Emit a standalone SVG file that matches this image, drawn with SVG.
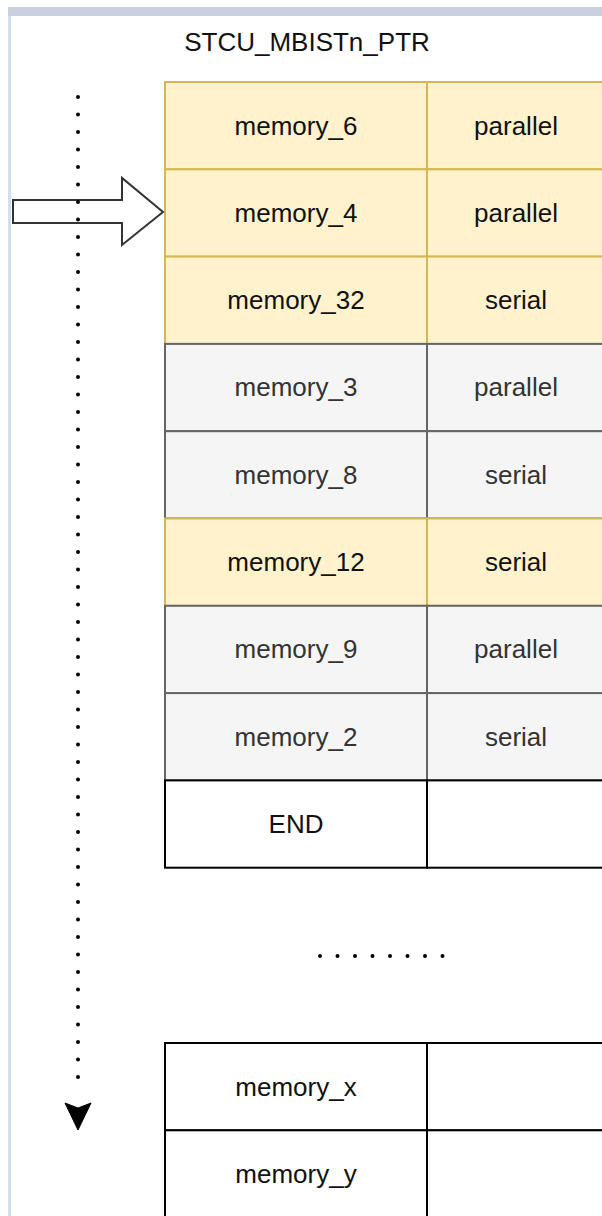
<svg xmlns="http://www.w3.org/2000/svg" width="602" height="1216" viewBox="0 0 602 1216">
  <defs>
    <style>
      .lbl { font-family: "Liberation Sans", Arial, sans-serif; font-size: 26px; text-anchor: middle; fill: #111111; }
      .lbl-g { fill: #333333; }
      .y { fill: #fff2cc; stroke: #d6b656; stroke-width: 2; }
      .g { fill: #f5f5f5; stroke: #666666; stroke-width: 2; }
      .w { fill: #ffffff; stroke: #000000; stroke-width: 2; }
      .dots { fill: none; stroke: #000000; stroke-width: 4; stroke-linecap: round; }
    </style>
  </defs>

  <!-- canvas frame -->
  <rect x="0" y="0" width="602" height="1216" fill="#ffffff"/>
  <rect x="8" y="7" width="594" height="9" fill="#c9d1e1"/>
  <rect x="8" y="16" width="3" height="1200" fill="#d6deec"/>

  <!-- title -->
  <text id="title" class="lbl" x="307" y="51">STCU_MBISTn_PTR</text>

  <!-- pointer table -->
  <g id="row-memory_6">
    <rect class="y" x="165" y="82" width="262" height="87.3"/>
    <rect class="y" x="427" y="82" width="178" height="87.3"/>
    <text class="lbl" x="296" y="135">memory_6</text>
    <text class="lbl" x="516" y="135">parallel</text>
  </g>
  <g id="row-memory_4">
    <rect class="y" x="165" y="169.3" width="262" height="87.3"/>
    <rect class="y" x="427" y="169.3" width="178" height="87.3"/>
    <text class="lbl" x="296" y="222">memory_4</text>
    <text class="lbl" x="516" y="222">parallel</text>
  </g>
  <g id="row-memory_32">
    <rect class="y" x="165" y="256.6" width="262" height="87.3"/>
    <rect class="y" x="427" y="256.6" width="178" height="87.3"/>
    <text class="lbl" x="296" y="309">memory_32</text>
    <text class="lbl" x="516" y="309">serial</text>
  </g>
  <g id="row-memory_3">
    <rect class="g" x="165" y="343.9" width="262" height="87.3"/>
    <rect class="g" x="427" y="343.9" width="178" height="87.3"/>
    <text class="lbl lbl-g" x="296" y="396">memory_3</text>
    <text class="lbl lbl-g" x="516" y="396">parallel</text>
  </g>
  <g id="row-memory_8">
    <rect class="g" x="165" y="431.2" width="262" height="87.3"/>
    <rect class="g" x="427" y="431.2" width="178" height="87.3"/>
    <text class="lbl lbl-g" x="296" y="484">memory_8</text>
    <text class="lbl lbl-g" x="516" y="484">serial</text>
  </g>
  <g id="row-memory_12">
    <rect class="y" x="165" y="518.5" width="262" height="87.3"/>
    <rect class="y" x="427" y="518.5" width="178" height="87.3"/>
    <text class="lbl" x="296" y="571">memory_12</text>
    <text class="lbl" x="516" y="571">serial</text>
  </g>
  <g id="row-memory_9">
    <rect class="g" x="165" y="605.8" width="262" height="87.3"/>
    <rect class="g" x="427" y="605.8" width="178" height="87.3"/>
    <text class="lbl lbl-g" x="296" y="658">memory_9</text>
    <text class="lbl lbl-g" x="516" y="658">parallel</text>
  </g>
  <g id="row-memory_2">
    <rect class="g" x="165" y="693.1" width="262" height="87.3"/>
    <rect class="g" x="427" y="693.1" width="178" height="87.3"/>
    <text class="lbl lbl-g" x="296" y="746">memory_2</text>
    <text class="lbl lbl-g" x="516" y="746">serial</text>
  </g>
  <g id="row-end">
    <rect class="w" x="165" y="780.4" width="262" height="87.3"/>
    <rect class="w" x="427" y="780.4" width="178" height="87.3"/>
    <text class="lbl" x="296" y="833">END</text>
  </g>

  <!-- continuation marker -->
  <g id="ellipsis">
    <line class="dots" x1="320" y1="956" x2="443" y2="956" stroke-dasharray="0 17.5"/>
  </g>

  <!-- tail of the table -->
  <g id="row-memory_x">
    <rect class="w" x="165" y="1043" width="262" height="87.3"/>
    <rect class="w" x="427" y="1043" width="178" height="87.3"/>
    <text class="lbl" x="296" y="1096">memory_x</text>
  </g>
  <g id="row-memory_y">
    <rect class="w" x="165" y="1130.3" width="262" height="87.3"/>
    <rect class="w" x="427" y="1130.3" width="178" height="87.3"/>
    <text class="lbl" x="296" y="1183">memory_y</text>
  </g>

  <!-- pointer arrow -->
  <g id="pointer">
    <polygon points="13,200 122,200 122,178 163,212 122,245 122,223 13,223" fill="#ffffff" stroke="#333333" stroke-width="2" stroke-linejoin="miter"/>
  </g>

  <!-- connectors -->
  <g id="connectors">
    <line class="dots" x1="78" y1="97" x2="78" y2="1094" stroke-dasharray="0 17.5"/>
    <path d="M78,1130 L65,1103 L78,1108 L91,1103 Z" fill="#000000" stroke="#000000" stroke-width="1"/>
  </g>
</svg>
